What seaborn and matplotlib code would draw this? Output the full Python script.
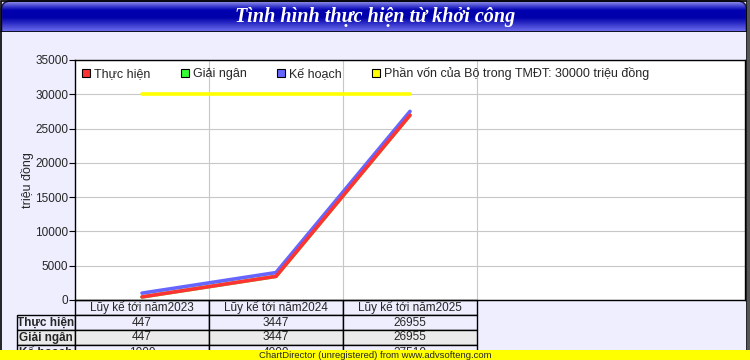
import numpy as np
import pandas as pd
import matplotlib
matplotlib.use('Agg')
import matplotlib.pyplot as plt
import seaborn as sns
from matplotlib.patches import Rectangle, FancyBboxPatch
from matplotlib.lines import Line2D
from matplotlib.colors import LinearSegmentedColormap
import matplotlib.transforms as mtrans

# ---------------- data ----------------
categories = ['Lũy kế tới năm2023', 'Lũy kế tới năm2024', 'Lũy kế tới năm2025']
thuc_hien = [447, 3447, 26955]
giai_ngan = [447, 3447, 26955]
ke_hoach = [1000, 4000, 27510]
phan_von = 30000
series_names = ['Thực hiện', 'Giải ngân', 'Kế hoạch']
phan_von_label = 'Phần vốn của Bộ trong TMĐT: 30000 triệu đồng'
title = 'Tình hình thực hiện từ khởi công'
ylabel = 'triệu đồng'
yticks = [0, 5000, 10000, 15000, 20000, 25000, 30000, 35000]
banner = 'ChartDirector (unregistered) from www.advsofteng.com'
n_slots = 5

colors = {'Thực hiện': '#FF3333', 'Giải ngân': '#33FF33', 'Kế hoạch': '#6666FF'}
yellow = '#FFFF00'
bg = '#EEEEFF'

sns.set_theme(style='white')
plt.rcParams['font.family'] = ['Liberation Sans', 'DejaVu Sans']

W, H = 750, 360
fig = plt.figure(figsize=(7.5, 3.6), dpi=100)
fig.patch.set_facecolor(bg)

# ---------------- title bar ----------------
tax = fig.add_axes([0, 1 - 32 / H, 1, 32 / H])
tax.set_xlim(0, W)
tax.set_ylim(32, 0)
tax.axis('off')
cmap = LinearSegmentedColormap.from_list('tb', [(0, '#B8B8EC'), (0.07, '#8080E4'), (0.2, '#3838CC'),
                                                (0.32, '#0000B0'), (0.55, '#0000AA'), (1.0, '#7070F0')])
grad = np.linspace(0, 1, 64).reshape(-1, 1)
im = tax.imshow(grad, cmap=cmap, extent=[0, W, 32, 0], aspect='auto', interpolation='bilinear')
clip = FancyBboxPatch((1.5, 1), W - 5, 60, boxstyle='round,pad=0,rounding_size=9',
                      transform=tax.transData, facecolor='none', edgecolor='#202050', lw=1.2)
tax.add_patch(clip)
im.set_clip_path(clip)
tax.axhline(31.5, color='black', lw=1.2)
tax.text(W / 2, 17, title, color='white', ha='center', va='center', fontsize=14.5,
         family='Liberation Serif', style='italic', weight='bold')

# ---------------- main axes ----------------
ax = fig.add_axes([75 / W, 1 - 300 / H, 670 / W, 240 / H])
ax.set_facecolor('white')

x_idx = list(range(len(categories)))
df = pd.DataFrame({
    'x': x_idx * 3,
    'value': thuc_hien + giai_ngan + ke_hoach,
    'series': [s for s in series_names for _ in categories],
})
sns.lineplot(data=df, x='x', y='value', hue='series',
             hue_order=['Giải ngân', 'Kế hoạch', 'Thực hiện'],
             palette=colors, linewidth=2.6, legend=False, ax=ax)
sns.lineplot(x=x_idx, y=[phan_von] * len(categories), color=yellow, linewidth=2.6, ax=ax)

ax.set_xlim(-0.5, n_slots - 0.5)
ax.set_ylim(0, 35000)
ax.set_yticks(yticks)
ax.set_yticklabels([str(v) for v in yticks], fontsize=8.5)
ax.set_xticks([i + 0.5 for i in x_idx])
ax.set_xticklabels([])
ax.tick_params(axis='x', length=0)
ax.tick_params(axis='y', length=4, width=0.8, color='black', direction='out', pad=1, left=True)
ax.grid(True, color='#C8C8C8', lw=0.8)
ax.set_axisbelow(True)
for s in ax.spines.values():
    s.set_color('black')
    s.set_linewidth(1)
ax.set_xlabel('')
ax.set_ylabel(ylabel, fontsize=9)
ax.yaxis.set_label_coords(-(75 - 34) / 670, 0.5)

# legend
handles = [Line2D([], [], marker='s', ls='none', markersize=6, markerfacecolor=colors[s],
                  markeredgecolor='black', markeredgewidth=0.8) for s in series_names]
handles.append(Line2D([], [], marker='s', ls='none', markersize=6, markerfacecolor=yellow,
                      markeredgecolor='black', markeredgewidth=0.8))
ax.legend(handles, series_names + [phan_von_label], loc='upper left', ncol=4, frameon=False,
          fontsize=9, handlelength=0.6, handletextpad=0.35, columnspacing=2.45,
          bbox_to_anchor=(0.0, 1.0), borderaxespad=0.0, borderpad=0.55)

# ---------------- data table ----------------
row_h = 15 / 240
lab_x0 = (17 - 75) / 670
bt = mtrans.blended_transform_factory(ax.transData, ax.transAxes)
rows = [thuc_hien, giai_ngan, ke_hoach]
row_bg = [bg, '#EAEAEA', bg]
for j, cat in enumerate(categories):
    ax.add_patch(Rectangle((j - 0.5, -row_h), 1, row_h, transform=bt, facecolor=bg,
                           edgecolor='black', lw=1, clip_on=False))
    ax.text(j, -row_h / 2, cat, transform=bt, ha='center', va='center', fontsize=8.5, clip_on=False)
for i, (name, vals) in enumerate(zip(series_names, rows)):
    y0 = -row_h * (i + 2)
    ax.add_patch(Rectangle((lab_x0, y0), -lab_x0, row_h, transform=ax.transAxes,
                           facecolor=row_bg[i], edgecolor='black', lw=1, clip_on=False))
    ax.text(lab_x0 / 2, y0 + row_h / 2, name, transform=ax.transAxes, ha='center', va='center',
            fontsize=8.5, weight='bold', clip_on=False)
    for j, v in enumerate(vals):
        ax.add_patch(Rectangle((j - 0.5, y0), 1, row_h, transform=bt, facecolor=row_bg[i],
                               edgecolor='black', lw=1, clip_on=False))
        ax.text(j, y0 + row_h / 2, str(v), transform=bt, ha='center', va='center',
                fontsize=8.5, clip_on=False)

# ---------------- frame & banner ----------------
fig.add_artist(Rectangle((0.5 / W, 0), (W - 4) / W, 1 - 0.5 / H, transform=fig.transFigure,
                         facecolor='none', edgecolor='black', lw=1.2, zorder=5))
fig.add_artist(Rectangle(((W - 3) / W, 0), 3 / W, 1, transform=fig.transFigure,
                         facecolor='#555555', edgecolor='none', zorder=5))
fig.add_artist(Rectangle((0, 0), 1, 10 / H, transform=fig.transFigure,
                         facecolor=yellow, edgecolor='none', zorder=10))
fig.text(0.5, 5 / H, banner, ha='center', va='center', fontsize=6.8, zorder=11)

fig.savefig('out.png', dpi=100, facecolor=fig.get_facecolor())
